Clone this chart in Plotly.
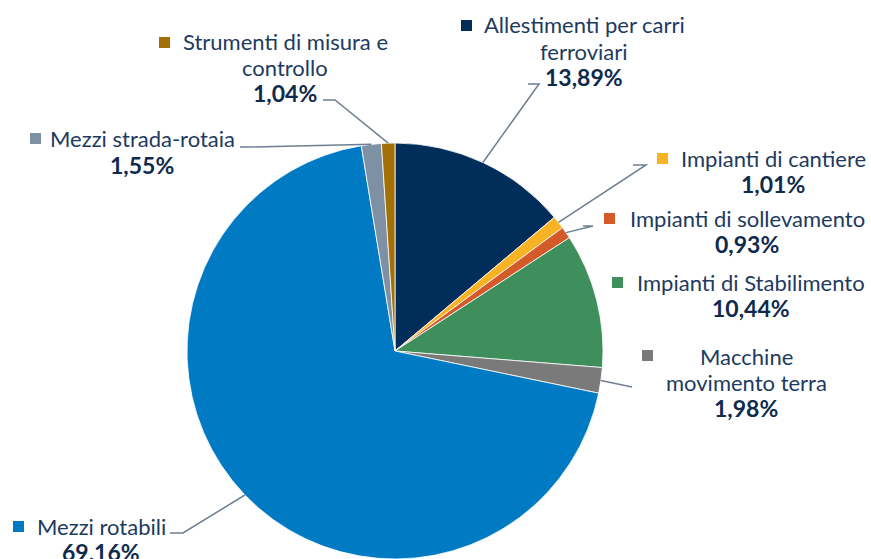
import math
import plotly.graph_objects as go

# --- data -------------------------------------------------------------
categories = [
    "Allestimenti per carri ferroviari",
    "Impianti di cantiere",
    "Impianti di sollevamento",
    "Impianti di Stabilimento",
    "Macchine movimento terra",
    "Mezzi rotabili",
    "Mezzi strada-rotaia",
    "Strumenti di misura e controllo",
]
label_lines = [
    ["Allestimenti per carri", "ferroviari"],
    ["Impianti di cantiere"],
    ["Impianti di sollevamento"],
    ["Impianti di Stabilimento"],
    ["Macchine", "movimento terra"],
    ["Mezzi rotabili"],
    ["Mezzi strada-rotaia"],
    ["Strumenti di misura e", "controllo"],
]
shares = [13.89, 1.01, 0.93, 10.44, 1.98, 69.16, 1.55, 1.04]
colors = ["#002D59", "#F7B323", "#D45A2A", "#3E8F5B", "#7A7A7A",
          "#007AC3", "#7D90A4", "#A27005"]

# --- layout (pixels) ---------------------------------------------------
W, H = 871, 559
CX, CY, R = 395, 351, 208
LINE_H = 26

# text centre x and first-line centre y, legend square top-left,
# leader (label end, elbow)
label_pos = [(584, 25), (773, 158), (747, 218), (751, 282),
             (746, 356), (101, 526), (142, 139), (285, 41)]
square_pos = [(461, 20), (657, 153), (604, 213), (612, 277),
              (642, 350), (13, 521), (30, 133), (159, 37)]
leaders = [((528, 84), (539, 84)), ((633, 165), (646, 165)),
           ((583, 226), (593, 226)), None,
           ((632, 387), (632, 387)), ((170, 533), (183, 533)),
           ((240, 147), (250, 147)), ((323, 100), (335, 100))]

NAME_COL = "#1D3A60"
PCT_COL = "#0E2A4D"
LINE_COL = "#6E7F92"


def px(x):
    return x / W


def py(y):
    return 1 - y / H


fig = go.Figure(go.Pie(
    labels=categories,
    values=shares,
    sort=False,
    direction="clockwise",
    rotation=0,
    marker=dict(colors=colors, line=dict(color="white", width=0.8)),
    textinfo="none",
    hoverinfo="label+percent",
    domain=dict(x=[px(CX - R), px(CX + R)], y=[py(CY + R), py(CY - R)]),
))

shapes = []
annotations = []
total = sum(shares)
cum = 0.0
for i, v in enumerate(shares):
    mid = (cum + v / 2) / total * 2 * math.pi
    cum += v
    ex = CX + R * math.sin(mid)
    ey = CY - R * math.cos(mid)

    pct = f"{v:.2f}".replace(".", ",") + "%"
    lx, ly = label_pos[i]
    lines = label_lines[i] + [f"<b>{pct}</b>"]
    for k, line in enumerate(lines):
        is_pct = k == len(lines) - 1
        annotations.append(dict(
            x=px(lx), y=py(ly + k * LINE_H), xref="paper", yref="paper",
            text=line, showarrow=False, xanchor="center", yanchor="middle",
            font=dict(family="Lato", size=23 if is_pct else 22,
                      color=PCT_COL if is_pct else NAME_COL),
        ))

    sx, sy = square_pos[i]
    shapes.append(dict(
        type="rect", xref="paper", yref="paper",
        x0=px(sx), x1=px(sx + 11), y0=py(sy + 11), y1=py(sy),
        fillcolor=colors[i], line=dict(width=0),
    ))

    if leaders[i] is not None:
        (ax, ay), (bx, by) = leaders[i]
        path = (f"M {px(ax)} {py(ay)} L {px(bx)} {py(by)} "
                f"L {px(ex)} {py(ey)}")
        shapes.append(dict(type="path", xref="paper", yref="paper",
                           path=path, line=dict(color=LINE_COL, width=1.5)))

fig.update_layout(
    width=W, height=H,
    margin=dict(l=0, r=0, t=0, b=0),
    showlegend=False,
    paper_bgcolor="white",
    plot_bgcolor="white",
    shapes=shapes,
    annotations=annotations,
)

# drop the default page margin so the figure sits at the window corner
fig.write_html("out.html", config={"displayModeBar": False},
               post_script="document.body.style.margin='0';")
